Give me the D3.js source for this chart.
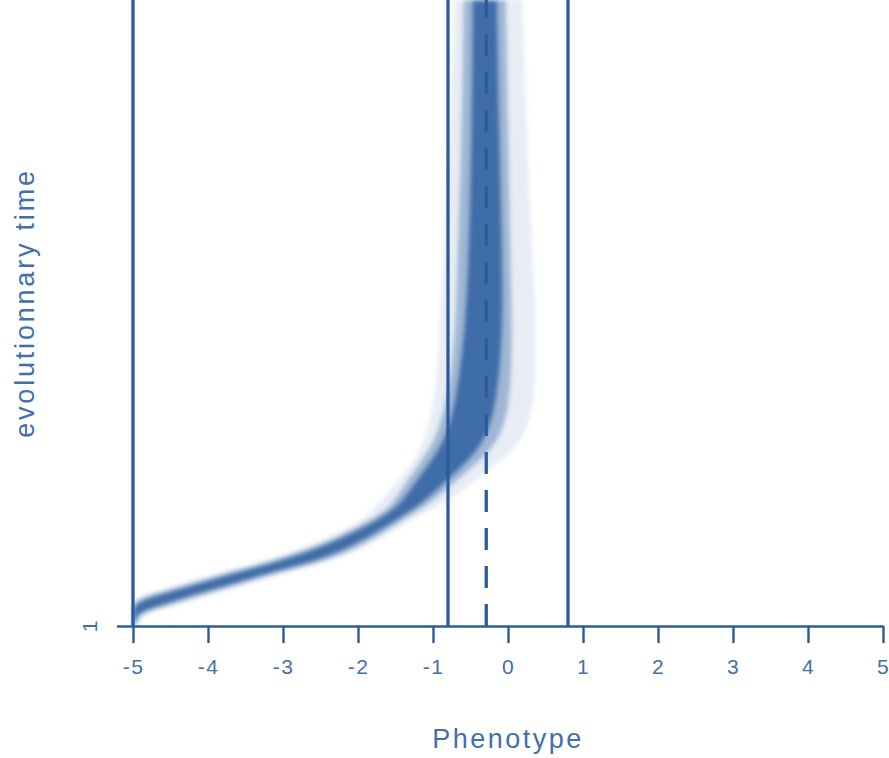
<!DOCTYPE html>
<html>
<head>
<meta charset="utf-8">
<script src="https://cdn.jsdelivr.net/npm/d3@7"></script>
<style>
  body { margin: 0; background: #fff; }
  text { font-family: "Liberation Sans", Arial, sans-serif; fill: #4270aa; }
</style>
</head>
<body>
<div id="my_dataviz"></div>
<script>
// generations sampled along the run
var gens = [5, 20, 30, 40, 50, 60, 70, 80, 90, 100, 110, 120, 140, 160, 180, 200, 250, 300, 400, 500, 600, 800, 1000];

// population phenotype spread at each generation (dense core, middle, faint outer)
var coreLo = [-5, -5, -4.99, -4.91, -4.65, -4.36, -4.07, -3.79, -3.49, -3.16, -2.91, -2.65, -2.23, -1.89, -1.60, -1.40, -1.12, -0.80, -0.64, -0.56, -0.52, -0.48, -0.47];
var coreHi = [-4.97, -4.96, -4.75, -4.49, -4.23, -3.93, -3.64, -3.36, -3.07, -2.73, -2.48, -2.25, -1.91, -1.63, -1.36, -1.11, -0.67, -0.24, -0.11, -0.07, -0.08, -0.12, -0.15];
var midLo  = [-5, -5, -5, -5, -4.79, -4.49, -4.20, -3.92, -3.63, -3.29, -3.03, -2.77, -2.33, -1.99, -1.69, -1.51, -1.25, -0.93, -0.75, -0.69, -0.67, -0.61, -0.59];
var midHi  = [-4.95, -4.92, -4.64, -4.36, -4.09, -3.80, -3.51, -3.24, -2.95, -2.60, -2.35, -2.13, -1.80, -1.53, -1.27, -1.00, -0.53, -0.04, 0.05, 0.05, 0.03, 0.00, -0.03];
var outLo  = [-5, -5, -5, -5, -4.89, -4.60, -4.31, -4.03, -3.73, -3.40, -3.13, -2.88, -2.44, -2.09, -1.83, -1.71, -1.33, -1.07, -0.93, -0.91, -0.85, -0.77, -0.71];
var outHi  = [-4.91, -4.84, -4.53, -4.25, -3.99, -3.69, -3.40, -3.12, -2.83, -2.49, -2.25, -2.03, -1.69, -1.43, -1.16, -0.77, -0.27, 0.29, 0.37, 0.37, 0.32, 0.24, 0.19];

// reference lines
var bounds = [-5, -0.8, 0.8];
var optimum = [-0.29];

// tick labels
var xTicks = [-5, -4, -3, -2, -1, 0, 1, 2, 3, 4, 5];
var yTicks = [1];

var lineColor = "#2c5b9c";

var margin = {top: 0, right: 6, bottom: 132, left: 133},
    width = 889 - margin.left - margin.right,
    height = 758 - margin.top - margin.bottom;

var root = d3.select("#my_dataviz")
  .append("svg")
    .attr("width", 889)
    .attr("height", 758);

var defs = root.append("defs");
defs.append("filter")
    .attr("id", "soft")
    .attr("x", "-20%").attr("y", "-5%")
    .attr("width", "140%").attr("height", "110%")
  .append("feGaussianBlur")
    .attr("stdDeviation", 2.2);

var svg = root.append("g")
    .attr("transform", "translate(" + margin.left + "," + margin.top + ")");

var x = d3.scaleLinear().domain([-5, 5]).range([0, width]);
var y = d3.scaleLinear().domain([1, 1000]).range([height, 0]);

// the population cloud
var rows = gens.map(function(g, i) {
  return {g: g, cl: coreLo[i], ch: coreHi[i], ml: midLo[i], mh: midHi[i], ol: outLo[i], oh: outHi[i]};
});

function band(lo, hi) {
  return d3.area()
    .curve(d3.curveBasis)
    .y(function(d) { return y(d.g); })
    .x0(function(d) { return x(d[lo]); })
    .x1(function(d) { return x(d[hi]); });
}

var cloud = svg.append("g").attr("filter", "url(#soft)");
cloud.append("path").datum(rows)
    .attr("fill", "#3d6fb0").attr("fill-opacity", 0.13)
    .attr("d", band("ol", "oh"));
cloud.append("path").datum(rows)
    .attr("fill", "#32649f").attr("fill-opacity", 0.4)
    .attr("d", band("ml", "mh"));
cloud.append("path").datum(rows)
    .attr("fill", "#2a5a9c").attr("fill-opacity", 0.8)
    .attr("d", band("cl", "ch"));

// bound lines
svg.selectAll(".bound")
  .data(bounds)
  .enter().append("line")
    .attr("class", "bound")
    .attr("x1", function(d) { return x(d); })
    .attr("x2", function(d) { return x(d); })
    .attr("y1", 0)
    .attr("y2", height)
    .attr("stroke", lineColor)
    .attr("stroke-width", 3.3);

svg.selectAll(".opt")
  .data(optimum)
  .enter().append("line")
    .attr("class", "opt")
    .attr("x1", function(d) { return x(d); })
    .attr("x2", function(d) { return x(d); })
    .attr("y1", height)
    .attr("y2", 0)
    .attr("stroke", lineColor)
    .attr("stroke-width", 3.3)
    .attr("stroke-dasharray", "22,16");

// X axis
var xAxis = svg.append("g")
    .attr("transform", "translate(0," + height + ")")
    .call(d3.axisBottom(x).tickValues(xTicks).tickSize(17).tickSizeOuter(0).tickPadding(16)
      .tickFormat(function(d) { return String(d); }));
xAxis.select(".domain").attr("stroke", lineColor).attr("stroke-width", 2.4);
xAxis.selectAll(".tick line").attr("stroke", lineColor).attr("stroke-width", 2.4);
xAxis.selectAll(".tick text")
    .style("font-size", "21px")
    .style("letter-spacing", "1.5px")
    .attr("fill", "#4270aa");

// Y axis, a single tick
var yAxis = svg.append("g")
    .call(d3.axisLeft(y).tickValues(yTicks).tickSize(16).tickFormat(function(d) { return String(d); }));
yAxis.select(".domain").remove();
yAxis.selectAll(".tick line").attr("stroke", lineColor).attr("stroke-width", 2.4);
yAxis.selectAll(".tick text")
    .attr("x", null).attr("dy", null)
    .attr("transform", "translate(-36,0) rotate(-90)")
    .attr("text-anchor", "middle")
    .style("font-size", "21px")
    .attr("fill", "#4270aa");

function xAxisLabel(g) {
  g.append("text")
    .attr("x", width / 2)
    .attr("y", height + 122)
    .style("text-anchor", "middle")
    .style("font-size", "27px")
    .style("letter-spacing", "2.5px")
    .text("Phenotype");
}

function yAxisLabel(g) {
  g.append("text")
    .attr("transform", "rotate(-90)")
    .attr("x", -303)
    .attr("y", -99)
    .style("text-anchor", "middle")
    .style("font-size", "27px")
    .style("letter-spacing", "2.8px")
    .text("evolutionnary time");
}

svg.append("g").call(xAxisLabel);
svg.append("g").call(yAxisLabel);
</script>
</body>
</html>
